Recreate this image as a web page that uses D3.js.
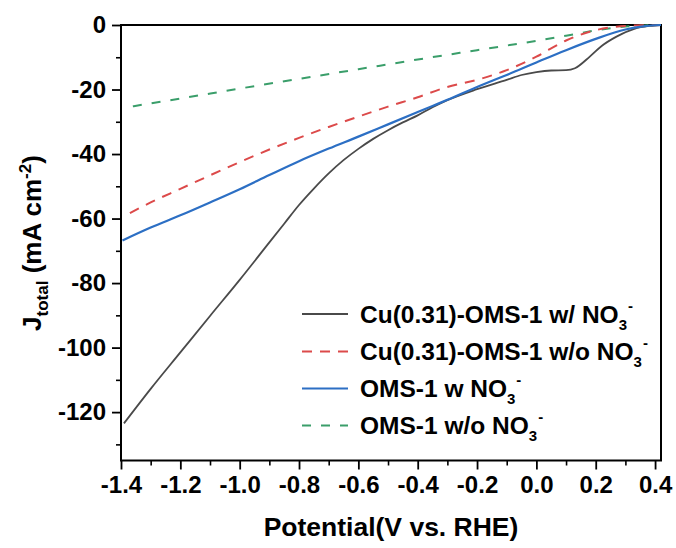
<!DOCTYPE html>
<html>
<head>
<meta charset="utf-8">
<script src="https://cdn.jsdelivr.net/npm/d3@7"></script>
<style>
  html, body { margin: 0; padding: 0; background: #fff; }
  svg { display: block; font-family: "Liberation Sans", Arial, sans-serif; font-weight: bold; }
</style>
</head>
<body>
<svg id="chart" width="676" height="548"></svg>
<script>
// ---- data ----
const cuWithV = [-1.39, -1.3, -1.2, -1.1, -1.0, -0.9, -0.85, -0.8, -0.75, -0.7, -0.65, -0.6, -0.55, -0.5, -0.45, -0.4, -0.35, -0.3, -0.2, -0.1, -0.05, 0.0, 0.05, 0.1, 0.13, 0.18, 0.22, 0.27, 0.33, 0.38, 0.42];
const cuWithJ = [-123.5, -112.8, -101.5, -90.2, -79, -67.4, -61.6, -55.8, -50.7, -46.0, -41.9, -38.4, -35.3, -32.6, -30.2, -28.0, -25.5, -23.3, -19.9, -17.0, -15.5, -14.6, -14.1, -14.0, -13.4, -9.8, -6.5, -3.6, -1.2, -0.3, 0];

const cuWithoutV = [-1.37, -1.3, -1.2, -1.1, -1.0, -0.9, -0.8, -0.7, -0.6, -0.5, -0.4, -0.3, -0.2, -0.1, 0.0, 0.1, 0.2, 0.3, 0.42];
const cuWithoutJ = [-58.3, -55, -50.8, -46.6, -42.5, -38.6, -35, -31.6, -28.4, -25.3, -22.4, -19.2, -17, -14, -9.8, -4.8, -1.6, -0.3, 0];

const omsWithV = [-1.395, -1.3, -1.2, -1.1, -1.0, -0.9, -0.8, -0.7, -0.6, -0.5, -0.4, -0.35, -0.3, -0.2, -0.1, 0.0, 0.1, 0.2, 0.3, 0.36, 0.42];
const omsWithJ = [-66.8, -62.8, -59, -55, -50.9, -46.5, -42.2, -38.3, -34.6, -30.8, -27, -25.1, -23.2, -19.2, -15.5, -11.6, -7.8, -4.3, -1.4, -0.4, 0];

const omsWithoutV = [-1.36, -1.2, -1.0, -0.8, -0.6, -0.4, -0.2, 0.0, 0.1, 0.2, 0.3, 0.42];
const omsWithoutJ = [-25.2, -22.8, -19.7, -16.7, -13.7, -10.7, -7.8, -4.9, -3.3, -1.7, -0.5, 0];

const seriesNames = ["Cu(0.31)-OMS-1 w/ NO", "Cu(0.31)-OMS-1 w/o NO", "OMS-1 w NO", "OMS-1 w/o NO"];
const xTicks = [-1.4, -1.2, -1.0, -0.8, -0.6, -0.4, -0.2, 0.0, 0.2, 0.4];
const xMinor = [-1.3, -1.1, -0.9, -0.7, -0.5, -0.3, -0.1, 0.1, 0.3];
const yTicks = [0, -20, -40, -60, -80, -100, -120];
const yMinor = [-10, -30, -50, -70, -90, -110, -130];

// ---- layout ----
const svg = d3.select("#chart");
const m = { left: 121, top: 25, right: 661, bottom: 460.5 };

const x = d3.scaleLinear().domain([-1.4, 0.42]).range([m.left, m.right]);
const y = d3.scaleLinear().domain([-135, 0]).range([m.bottom, m.top]);

const fmtX = v => d3.format(".1f")(v).replace("−", "-");
const fmtY = v => d3.format("d")(v).replace("−", "-");

// minor ticks
svg.append("g").attr("transform", `translate(0,${m.bottom})`)
  .call(d3.axisBottom(x).tickValues(xMinor).tickSize(5).tickFormat(""))
  .call(g => g.select(".domain").remove())
  .call(g => g.selectAll("line").attr("stroke", "#000").attr("stroke-width", 1.6));
svg.append("g").attr("transform", `translate(${m.left},0)`)
  .call(d3.axisLeft(y).tickValues(yMinor).tickSize(5).tickFormat(""))
  .call(g => g.select(".domain").remove())
  .call(g => g.selectAll("line").attr("stroke", "#000").attr("stroke-width", 1.6));

// major axes
const xAxis = svg.append("g").attr("transform", `translate(0,${m.bottom})`)
  .call(d3.axisBottom(x).tickValues(xTicks).tickSize(9).tickPadding(6).tickFormat(fmtX));
xAxis.select(".domain").remove();
xAxis.selectAll("line").attr("stroke", "#000").attr("stroke-width", 1.8);
xAxis.selectAll("text").attr("fill", "#000").attr("font-size", 24).attr("font-weight", "bold")
  .attr("font-family", "Liberation Sans, Arial, sans-serif");

const yAxis = svg.append("g").attr("transform", `translate(${m.left},0)`)
  .call(d3.axisLeft(y).tickValues(yTicks).tickSize(9).tickPadding(6).tickFormat(fmtY));
yAxis.select(".domain").remove();
yAxis.selectAll("line").attr("stroke", "#000").attr("stroke-width", 1.8);
yAxis.selectAll("text").attr("fill", "#000").attr("font-size", 24).attr("font-weight", "bold")
  .attr("font-family", "Liberation Sans, Arial, sans-serif");

// frame
svg.append("rect")
  .attr("x", m.left).attr("y", m.top)
  .attr("width", m.right - m.left).attr("height", m.bottom - m.top)
  .attr("fill", "none").attr("stroke", "#000").attr("stroke-width", 2);

// lines
const series = [
  { name: seriesNames[0], V: cuWithV, J: cuWithJ, color: "#4a4a4a", dash: null, w: 1.8 },
  { name: seriesNames[1], V: cuWithoutV, J: cuWithoutJ, color: "#dc4a4a", dash: "10,8", w: 2 },
  { name: seriesNames[2], V: omsWithV, J: omsWithJ, color: "#2c6fc4", dash: null, w: 2.2 },
  { name: seriesNames[3], V: omsWithoutV, J: omsWithoutJ, color: "#3a9e6a", dash: "9,10", w: 2 }
];

const line = d3.line().x(d => x(d[0])).y(d => y(d[1])).curve(d3.curveMonotoneX);
const plot = svg.append("g");
[3, 1, 0, 2].forEach(i => {
  const s = series[i];
  plot.append("path")
    .datum(s.V.map((v, k) => [v, s.J[k]]))
    .attr("d", line)
    .attr("fill", "none")
    .attr("stroke", s.color)
    .attr("stroke-width", s.w)
    .attr("stroke-dasharray", s.dash);
});

// legend
const leg = svg.append("g");
const rowY = [314, 351.5, 388.5, 425.5];
series.forEach((s, i) => {
  leg.append("line")
    .attr("x1", 302).attr("x2", 348)
    .attr("y1", rowY[i]).attr("y2", rowY[i])
    .attr("stroke", s.color).attr("stroke-width", s.w)
    .attr("stroke-dasharray", s.dash);
  const t = leg.append("text")
    .attr("x", 360).attr("y", rowY[i] + 8.5)
    .attr("font-size", 24.5).attr("font-weight", "bold").attr("fill", "#000");
  t.append("tspan").text(s.name);
  t.append("tspan").attr("dy", 7).attr("font-size", 15).text("3");
  t.append("tspan").attr("dy", -19).attr("dx", 1).attr("font-size", 15).text("-");
});

// axis titles
svg.append("text")
  .attr("x", (m.left + m.right) / 2).attr("y", 536)
  .attr("text-anchor", "middle").attr("font-size", 26.5).attr("font-weight", "bold")
  .text("Potential(V vs. RHE)");

const yt = svg.append("text")
  .attr("transform", "translate(41,243) rotate(-90)")
  .attr("text-anchor", "middle").attr("font-size", 26).attr("font-weight", "bold");
yt.append("tspan").text("J");
yt.append("tspan").attr("dy", 7).attr("font-size", 17).text("total");
yt.append("tspan").attr("dy", -7).text(" (mA cm");
yt.append("tspan").attr("dy", -10).attr("font-size", 17).text("-2");
yt.append("tspan").attr("dy", 10).text(")");
</script>
</body>
</html>
